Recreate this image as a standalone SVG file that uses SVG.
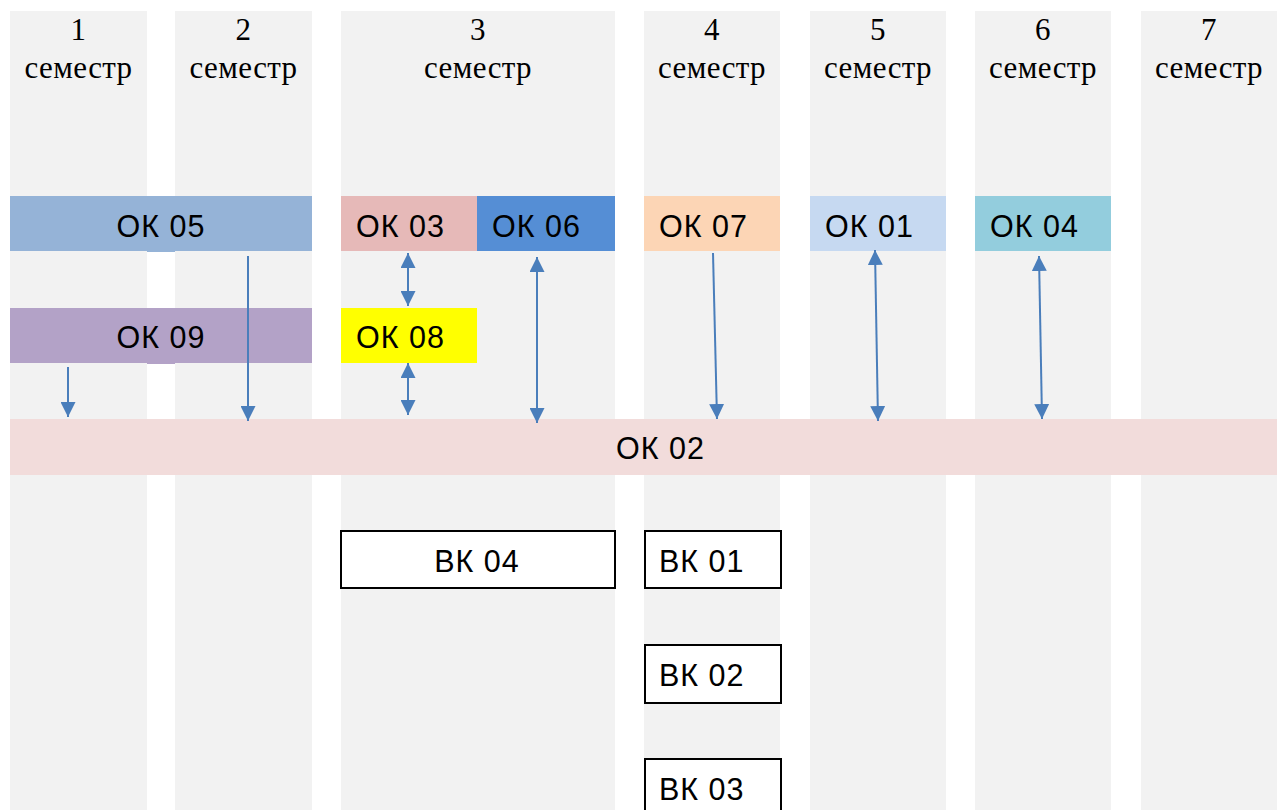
<svg xmlns="http://www.w3.org/2000/svg" width="1278" height="810" viewBox="0 0 1278 810">
<style>
.col{fill:#f2f2f2}
.hd{font-family:"Liberation Serif","Times New Roman",serif;font-size:31px;fill:#000;text-anchor:middle;letter-spacing:0.4px}
.lb{font-family:"Liberation Sans",Arial,sans-serif;font-size:30.5px;fill:#000;letter-spacing:1px}
.mid{text-anchor:middle}
.vk{fill:#fff;stroke:#000;stroke-width:2}
.ar{stroke:#4a7ebb;stroke-width:2;fill:none}
</style>
<defs>
<marker id="ah" viewBox="0 0 15 15" refX="15" refY="7.5" markerWidth="15" markerHeight="15" markerUnits="userSpaceOnUse" orient="auto-start-reverse">
<path d="M0,0 L15,7.5 L0,15 z" fill="#4a7ebb"/>
</marker>
</defs>
<rect width="1278" height="810" fill="#fff"/>
<g id="semesters">
<rect class="col" x="10" y="11" width="137" height="799"/>
<rect class="col" x="175" y="11" width="137" height="799"/>
<rect class="col" x="341" y="11" width="274" height="799"/>
<rect class="col" x="644" y="11" width="136" height="799"/>
<rect class="col" x="810" y="11" width="136" height="799"/>
<rect class="col" x="975" y="11" width="136" height="799"/>
<rect class="col" x="1141" y="11" width="136" height="799"/>
<text class="hd" x="78.5" y="40">1</text><text class="hd" x="78.5" y="78">семестр</text>
<text class="hd" x="243.5" y="40">2</text><text class="hd" x="243.5" y="78">семестр</text>
<text class="hd" x="478" y="40">3</text><text class="hd" x="478" y="78">семестр</text>
<text class="hd" x="712" y="40">4</text><text class="hd" x="712" y="78">семестр</text>
<text class="hd" x="878" y="40">5</text><text class="hd" x="878" y="78">семестр</text>
<text class="hd" x="1043" y="40">6</text><text class="hd" x="1043" y="78">семестр</text>
<text class="hd" x="1209" y="40">7</text><text class="hd" x="1209" y="78">семестр</text>
</g>
<g id="ok05"><rect x="10" y="196" width="302" height="55" fill="#95b3d7"/><rect x="147" y="251" width="28" height="1" fill="#95b3d7"/><text class="lb mid" x="161" y="237">ОК 05</text></g>
<g id="ok03"><rect x="341" y="196" width="136" height="55" fill="#e6b9b8"/><text class="lb" x="356" y="237">ОК 03</text></g>
<g id="ok06"><rect x="477" y="196" width="138" height="55" fill="#558ed5"/><text class="lb" x="492" y="237">ОК 06</text></g>
<g id="ok07"><rect x="644" y="196" width="136" height="55" fill="#fcd5b5"/><text class="lb" x="659" y="237">ОК 07</text></g>
<g id="ok01"><rect x="810" y="196" width="136" height="55" fill="#c6d9f1"/><text class="lb" x="825" y="237">ОК 01</text></g>
<g id="ok04"><rect x="975" y="196" width="136" height="55" fill="#93cddd"/><text class="lb" x="990" y="237">ОК 04</text></g>
<g id="ok09"><rect x="10" y="308" width="302" height="55" fill="#b3a2c7"/><rect x="147" y="363" width="28" height="1" fill="#b3a2c7"/><text class="lb mid" x="161" y="348">ОК 09</text></g>
<g id="ok08"><rect x="341" y="308" width="136" height="55" fill="#ffff00"/><text class="lb" x="356" y="348">ОК 08</text></g>
<g id="ok02"><rect x="10" y="419" width="1267" height="56" fill="#f2dcdb"/><text class="lb" x="616" y="459">ОК 02</text></g>
<g id="vk04"><rect class="vk" x="341" y="531" width="274" height="57"/><text class="lb mid" x="477" y="572">ВК 04</text></g>
<g id="vk01"><rect class="vk" x="645" y="531" width="136" height="57"/><text class="lb" x="659" y="572">ВК 01</text></g>
<g id="vk02"><rect class="vk" x="645" y="645" width="136" height="58"/><text class="lb" x="659" y="686">ВК 02</text></g>
<g id="vk03"><rect class="vk" x="645" y="759" width="136" height="60"/><text class="lb" x="659" y="800">ВК 03</text></g>
<g id="connectors">
<line class="ar" x1="68" y1="367" x2="68" y2="417" marker-end="url(#ah)"/>
<line class="ar" x1="248" y1="256" x2="248" y2="421" marker-end="url(#ah)"/>
<line class="ar" x1="408" y1="253" x2="408" y2="306" marker-start="url(#ah)" marker-end="url(#ah)"/>
<line class="ar" x1="408" y1="363" x2="408" y2="415" marker-start="url(#ah)" marker-end="url(#ah)"/>
<line class="ar" x1="537" y1="257" x2="537" y2="423" marker-start="url(#ah)" marker-end="url(#ah)"/>
<line class="ar" x1="713" y1="253" x2="717" y2="419" marker-end="url(#ah)"/>
<line class="ar" x1="875" y1="250" x2="878" y2="421" marker-start="url(#ah)" marker-end="url(#ah)"/>
<line class="ar" x1="1039" y1="256" x2="1042" y2="419" marker-start="url(#ah)" marker-end="url(#ah)"/>
</g>
</svg>
